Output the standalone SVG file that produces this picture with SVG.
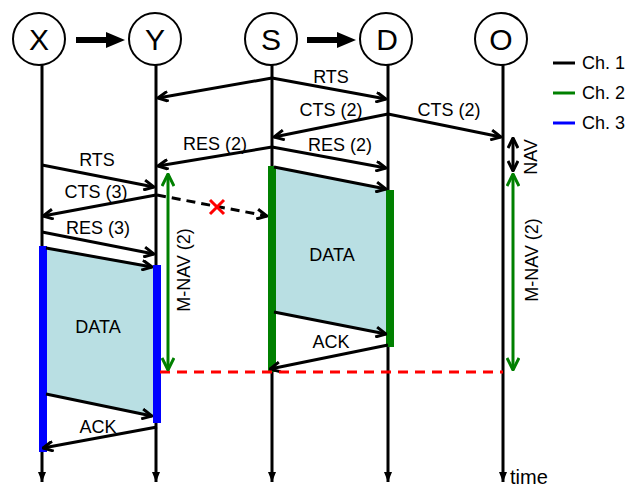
<svg xmlns="http://www.w3.org/2000/svg" width="640" height="488" viewBox="0 0 640 488">
<style>
text{font-family:"Liberation Sans",Arial,sans-serif;fill:#000}
.lbl{font-size:18px;text-anchor:middle}
.node{font-size:30px;text-anchor:middle}
.leg{font-size:18px}
.life{stroke:#000;stroke-width:3;fill:none;marker-end:url(#tri)}
.msg{stroke:#000;stroke-width:3;fill:none;marker-end:url(#open)}
.gnav{stroke:#008000;stroke-width:3;fill:none;marker-start:url(#gopen);marker-end:url(#gopen)}
</style>
<defs>
<marker id="open" viewBox="0 0 12 12" refX="11" refY="6" markerWidth="12" markerHeight="12" markerUnits="userSpaceOnUse" orient="auto-start-reverse">
<path d="M1,1 L11,6 L1,11" fill="none" stroke="#000" stroke-width="3"/>
</marker>
<marker id="gopen" viewBox="0 0 14 14" refX="13" refY="7" markerWidth="14" markerHeight="14" markerUnits="userSpaceOnUse" orient="auto-start-reverse">
<path d="M1,1 L13,7 L1,13" fill="none" stroke="#008000" stroke-width="3"/>
</marker>
<marker id="tri" viewBox="0 0 10 10" refX="10" refY="5" markerWidth="10" markerHeight="10" markerUnits="userSpaceOnUse" orient="auto">
<path d="M0,1 L10,5 L0,9 Z" fill="#000"/>
</marker>
</defs>
<rect width="640" height="488" fill="#fff"/>

<!-- data blocks -->
<g id="data-left">
<polygon points="44,247 155,266 155,417 44,394" fill="#b9dfe3"/>
<text class="lbl" x="98" y="333">DATA</text>
</g>
<g id="data-right">
<polygon points="272,166 388,190 388,335 272,312" fill="#b9dfe3"/>
<text class="lbl" x="332" y="261">DATA</text>
</g>

<!-- lifelines -->
<g id="lifelines">
<line class="life" x1="42" y1="65" x2="42" y2="482"/>
<line class="life" x1="156" y1="65" x2="156" y2="482"/>
<line class="life" x1="272" y1="65" x2="272" y2="482"/>
<line class="life" x1="388" y1="65" x2="388" y2="482"/>
<line class="life" x1="503" y1="65" x2="503" y2="482"/>
</g>

<!-- nodes -->
<g id="node-X"><circle cx="39" cy="39" r="26" fill="#fff" stroke="#000" stroke-width="2"/><text class="node" x="39" y="50">X</text></g>
<g id="node-Y"><circle cx="155" cy="39" r="26" fill="#fff" stroke="#000" stroke-width="2"/><text class="node" x="155" y="50">Y</text></g>
<g id="node-S"><circle cx="271" cy="39" r="26" fill="#fff" stroke="#000" stroke-width="2"/><text class="node" x="271" y="50">S</text></g>
<g id="node-D"><circle cx="386" cy="39" r="26" fill="#fff" stroke="#000" stroke-width="2"/><text class="node" x="387" y="50">D</text></g>
<g id="node-O"><circle cx="501" cy="39" r="26" fill="#fff" stroke="#000" stroke-width="2"/><text class="node" x="501" y="50">O</text></g>

<!-- pair arrows -->
<g id="pair-arrows">
<line x1="76" y1="40" x2="108" y2="40" stroke="#000" stroke-width="6"/>
<polygon points="106,32 125,40 106,48" fill="#000"/>
<line x1="307" y1="40" x2="339" y2="40" stroke="#000" stroke-width="6"/>
<polygon points="337,32 356,40 337,48" fill="#000"/>
</g>

<!-- channel bars -->
<g id="bars">
<rect x="39" y="246" width="8" height="206" fill="#0000ff"/>
<rect x="153" y="265" width="8" height="158" fill="#0000ff"/>
<rect x="268" y="166" width="8" height="206" fill="#008000"/>
<rect x="386" y="190" width="8" height="157" fill="#008000"/>
</g>

<!-- connectors -->
<g id="connectors">
<line class="msg" x1="272" y1="78" x2="158" y2="98"/>
<line class="msg" x1="272" y1="78" x2="386" y2="99"/>
<line class="msg" x1="388" y1="114" x2="274" y2="137"/>
<line class="msg" x1="388" y1="114" x2="501" y2="137"/>
<line class="msg" x1="272" y1="147" x2="158" y2="166"/>
<line class="msg" x1="272" y1="147" x2="386" y2="168"/>
<line class="msg" x1="274" y1="167" x2="386" y2="189"/>
<line class="msg" x1="274" y1="312" x2="386" y2="334"/>
<line class="msg" x1="388" y1="345" x2="270" y2="369"/>

<line class="msg" x1="42" y1="165" x2="154" y2="187"/>
<line class="msg" x1="156" y1="195" x2="43" y2="216"/>
<line class="msg" x1="157" y1="195" x2="267" y2="216" stroke-dasharray="9,6"/>
<line class="msg" x1="42" y1="232" x2="154" y2="254"/>
<line class="msg" x1="46" y1="248" x2="152" y2="267"/>
<line class="msg" x1="46" y1="394" x2="152" y2="416"/>
<line class="msg" x1="157" y1="427" x2="43" y2="448"/>

<line x1="160" y1="372" x2="503" y2="372" stroke="#ff0000" stroke-width="3" stroke-dasharray="10,7"/>
<line class="gnav" x1="168" y1="174" x2="168" y2="370"/>
<line class="gnav" x1="513" y1="174" x2="513" y2="370"/>
<line class="msg" x1="513" y1="138" x2="513" y2="171" style="marker-start:url(#open)"/>
<path d="M210,200 L224,214 M224,200 L210,214" stroke="#ff0000" stroke-width="3"/>
</g>

<!-- labels -->
<g id="labels">
<text class="lbl" x="331" y="83">RTS</text>
<text class="lbl" x="331" y="116">CTS (2)</text>
<text class="lbl" x="449" y="116">CTS (2)</text>
<text class="lbl" x="215" y="150">RES (2)</text>
<text class="lbl" x="340" y="151">RES (2)</text>
<text class="lbl" x="331" y="348">ACK</text>
<text class="lbl" x="97" y="166">RTS</text>
<text class="lbl" x="96" y="198">CTS (3)</text>
<text class="lbl" x="98" y="234">RES (3)</text>
<text class="lbl" x="98" y="433">ACK</text>
<text class="lbl" transform="translate(190,270) rotate(-90)">M-NAV (2)</text>
<text class="lbl" transform="translate(538,260) rotate(-90)">M-NAV (2)</text>
<text class="lbl" transform="translate(537,157) rotate(-90)">NAV</text>
<text x="510" y="484" style="font-size:20px">time</text>
</g>

<!-- legend -->
<g id="legend">
<line x1="553" y1="63" x2="575" y2="63" stroke="#000" stroke-width="3"/>
<text class="leg" x="582" y="69">Ch. 1</text>
<line x1="553" y1="93" x2="575" y2="93" stroke="#008000" stroke-width="3"/>
<text class="leg" x="582" y="99">Ch. 2</text>
<line x1="553" y1="123" x2="575" y2="123" stroke="#0000ff" stroke-width="3"/>
<text class="leg" x="582" y="129">Ch. 3</text>
</g>
</svg>
